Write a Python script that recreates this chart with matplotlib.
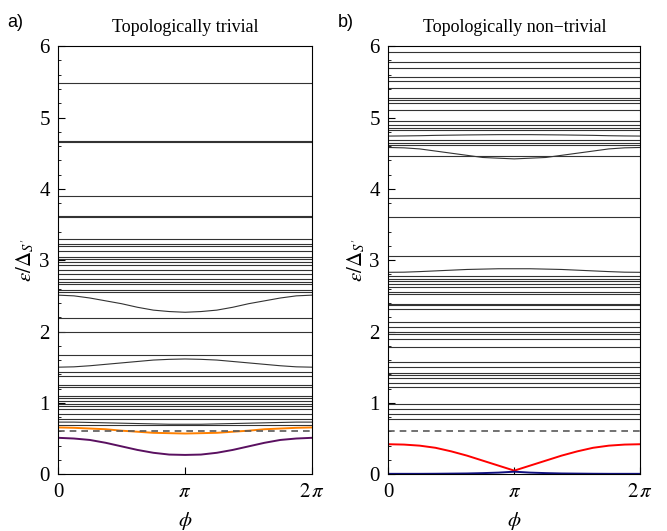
import matplotlib

matplotlib.use("Agg")
import matplotlib.pyplot as plt
import numpy as np
from matplotlib.ticker import MultipleLocator

# phase grid for the dispersive levels, 0..2pi in steps of pi/8
phi_pts = np.arange(17) * np.pi / 8

# --- panel a: topologically trivial ---
flat_a = [5.49, 4.65, 4.67, 3.90, 3.60, 3.62, 3.30, 3.23, 3.20, 3.13, 3.05,
          3.01, 2.98, 2.93, 2.86, 2.80, 2.73, 2.69, 2.66, 2.58, 2.56, 2.19,
          1.99, 1.67, 1.43, 1.38, 1.25, 1.22, 1.10, 1.07, 1.03, 0.99, 0.95,
          0.91, 0.85, 0.78, 0.69]
# half curves (0..pi), mirrored for pi..2pi
curve_a_2p5 = [2.51, 2.50, 2.47, 2.43, 2.39, 2.34, 2.30, 2.28, 2.27]
curve_a_1p5 = [1.50, 1.505, 1.52, 1.54, 1.56, 1.58, 1.60, 1.61, 1.615]
curve_a_0p73 = [0.73, 0.73, 0.725, 0.72, 0.715, 0.71, 0.705, 0.70, 0.70]
orange_a = [0.655, 0.65, 0.64, 0.63, 0.61, 0.595, 0.58, 0.575, 0.57]
purple_a = [0.51, 0.50, 0.48, 0.44, 0.39, 0.34, 0.30, 0.275, 0.27]

# --- panel b: topologically non-trivial ---
flat_b = [5.92, 5.78, 5.70, 5.57, 5.51, 5.41, 5.28, 5.25, 5.21, 5.11, 4.95,
          4.90, 4.86, 4.82, 4.68, 4.64, 4.61, 4.46, 3.87, 3.61, 3.06, 2.78,
          2.73, 2.71, 2.66, 2.62, 2.56, 2.53, 2.39, 2.37, 2.32, 2.14, 2.07,
          2.00, 1.96, 1.89, 1.78, 1.57, 1.50, 1.42, 1.39, 1.35, 1.28, 1.22,
          0.99, 0.91, 0.85, 0.78]
curve_b_4p58 = [4.58, 4.575, 4.56, 4.53, 4.50, 4.47, 4.44, 4.43, 4.42]
curve_b_4p74 = [4.74, 4.742, 4.745, 4.75, 4.753, 4.756, 4.758, 4.76, 4.76]
curve_b_2p83 = [2.83, 2.832, 2.84, 2.85, 2.86, 2.87, 2.875, 2.88, 2.88]
red_b = [0.42, 0.415, 0.40, 0.37, 0.32, 0.26, 0.19, 0.12, 0.05]
blue_b = [0.005, 0.005, 0.005, 0.006, 0.008, 0.01, 0.015, 0.022, 0.035]

gap = 0.60
serif = ["Liberation Serif", "DejaVu Serif"]


def full(half):
    return list(half) + list(half[-2::-1])


def draw_panel(ax, flat, curves, special, title, tag):
    ax.hlines(flat, 0, 2 * np.pi, color="0.2", lw=0.8)
    for c in curves:
        ax.plot(phi_pts, full(c), color="0.2", lw=0.8)
    for c, col in special:
        ax.plot(phi_pts, full(c), color=col, lw=1.4)
    ax.axhline(gap, color="0.35", lw=1.2, ls=(0, (4, 3)))
    ax.set_xlim(0, 2 * np.pi)
    ax.set_ylim(0, 6)
    ax.set_xticks([0, np.pi, 2 * np.pi])
    ax.set_xticklabels(["0", r"$\pi$", r"$2\,\pi$"])
    ax.yaxis.set_major_locator(MultipleLocator(1))
    ax.yaxis.set_minor_locator(MultipleLocator(0.2))
    ax.tick_params(direction="in", which="major", length=5, labelsize=15, pad=6)
    ax.tick_params(direction="in", which="minor", length=2.5)
    for lab in ax.get_xticklabels() + ax.get_yticklabels():
        lab.set_family(serif)
    ax.set_xlabel(r"$\phi$", fontsize=15, labelpad=6)
    ax.set_ylabel(r"$\epsilon/\Delta_{S'}$", fontsize=15, labelpad=2)
    ax.set_title(title, fontsize=13, family=serif, pad=10)
    ax.text(-0.2, 1.045, tag, transform=ax.transAxes, fontsize=13,
            family=["Liberation Sans", "DejaVu Sans"])


fig = plt.figure(figsize=(6.67, 5.31), dpi=100)
plt.rcParams["mathtext.fontset"] = "stix"
ax_a = fig.add_axes([0.087, 0.107, 0.381, 0.806])
ax_b = fig.add_axes([0.582, 0.107, 0.378, 0.806])

draw_panel(ax_a, flat_a, [curve_a_2p5, curve_a_1p5, curve_a_0p73],
           [(orange_a, "#ff8000"), (purple_a, "#5a1060")],
           "Topologically trivial", "a)")
draw_panel(ax_b, flat_b, [curve_b_4p58, curve_b_4p74, curve_b_2p83],
           [(red_b, "#ff0000"), (blue_b, "#101080")],
           "Topologically non\u2212trivial", "b)")

fig.savefig("out.png", dpi=100)
